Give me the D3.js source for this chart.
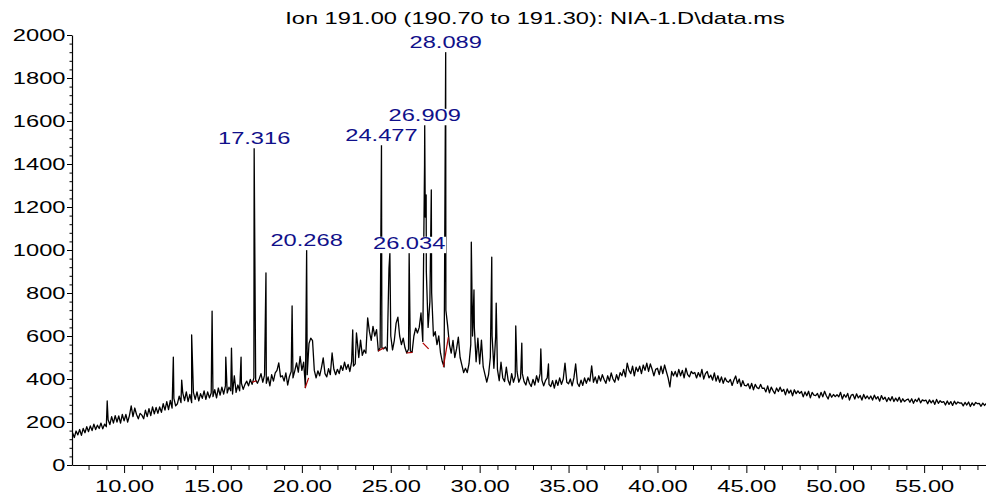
<!DOCTYPE html>
<html>
<head>
<meta charset="utf-8">
<script src="https://cdn.jsdelivr.net/npm/d3@7"></script>
<style>
  body { margin: 0; background: #fff; }
  svg text { font-family: "Liberation Sans", Arial, sans-serif; }
</style>
</head>
<body>
<svg id="canvas"></svg>
<script>
// abundance, one row per minute (x.0 ... x.9), first row = 7 min
let scanStart = 7
let scanStep = 0.1
let minuteRows = [
  [135,150,128,158,140,165,138,170,150,178],
  [155,182,160,190,165,185,170,195,168,190],
  [178,210,188,225,195,230,200,228,195,235],
  [205,235,200,230,275,225,265,235,215,240],
  [232,215,255,225,262,230,270,238,268,240],
  [270,245,285,255,295,258,300,265,310,275],
  [285,320,290,335,300,340,295,328,290,338],
  [305,340,298,332,310,345,305,340,312,335],
  [318,350,312,358,325,362,330,368,335,362],
  [345,330,415,338,372,345,380,352,375,390],
  [368,398,375,405,395,380,400,425,385,418],
  [380,410,368,420,390,428,440,475,410,415],
  [390,428,372,412,435,405,438,475,432,505],
  [440,478,360,420,565,590,578,440,405,438],
  [415,452,498,425,410,448,420,521,445,420],
  [445,425,462,440,478,445,468,435,482,460],
  [470,590,500,581,510,535,520,684,620,580],
  [645,600,630,530,545,545,540,549,530,916],
  [600,535,580,660,688,600,560,590,545,521],
  [540,530,525,600,637,614,640,707,575,1400],
  [900,640,760,800,600,620,560,600,520,480],
  [456,720,647,560,520,580,500,540,595,500],
  [465,430,450,430,470,560,600,640,480,590],
  [470,581,456,420,386,420,500,600,450,600],
  [445,392,478,405,388,455,395,372,425,385],
  [412,435,385,405,425,388,372,410,380,365],
  [398,372,415,385,425,395,368,392,405,375],
  [365,392,358,395,370,405,375,400,474,385],
  [378,400,368,405,470,380,365,395,370,405],
  [380,405,390,461,385,410,380,415,390,420],
  [398,380,415,390,428,400,385,420,395,430],
  [415,445,410,474,440,425,460,415,455,435],
  [460,425,465,440,474,435,470,445,415,445],
  [450,420,460,425,465,435,405,363,435,415],
  [435,410,445,415,440,405,450,420,410,435],
  [425,430,405,430,410,445,400,425,435,405],
  [418,395,428,390,415,385,410,380,405,390],
  [385,398,370,395,414,380,400,365,392,370],
  [368,378,355,380,350,375,360,355,375,356],
  [358,340,368,336,362,346,332,358,342,362],
  [342,352,326,354,334,348,322,350,332,345],
  [333,342,317,340,322,343,312,338,325,323],
  [333,312,338,317,343,322,307,333,315,328],
  [318,327,317,338,307,328,315,333,302,325],
  [328,307,331,312,323,302,328,309,321,307],
  [321,302,325,307,318,297,323,305,315,295],
  [313,299,318,295,311,297,315,292,308,295],
  [303,307,292,308,287,305,295,311,289,303],
  [298,302,285,303,289,301,282,305,287,299],
  [291,295,279,298,282,295,277,297,283,293],
  [288,289,275,291,279,293,272,289,277,291],
  [285,287,273,288,277,287,275,285,272,283]
]

// narrow peak apexes that fall between scans
let peakTimes = [9.05, 12.77, 13.24, 13.80, 14.95, 15.72, 16.04, 16.58, 17.316, 17.98,
  19.45, 20.268, 22.86, 23.07, 24.477, 24.95, 26.034, 26.909, 26.94, 26.99,
  27.28, 28.089, 29.53, 29.68, 30.68, 30.93, 32.03, 32.37, 33.44, 33.87]
let peakHeights = [298, 502, 395, 605, 716, 502, 544, 502, 1474, 893,
  740, 1000, 628, 614, 1488, 986, 986, 1581, 1153, 1256,
  1279, 1921, 1037, 814, 967, 753, 647, 567, 540, 470]

let labelTimes = [17.316, 20.268, 24.477, 26.034, 26.909, 28.089]
let labelHeights = [1474, 1000, 1488, 986, 1581, 1921]

// integration baselines (red)
let baseFrom = [17.20, 20.18, 24.30, 25.88, 26.80, 27.96]
let baseFromVal = [385, 358, 530, 521, 568, 456]
let baseTo = [17.45, 20.38, 24.62, 26.22, 27.13, 28.24]
let baseToVal = [392, 405, 545, 524, 540, 595]

let yMajor = [0, 200, 400, 600, 800, 1000, 1200, 1400, 1600, 1800, 2000]
let xMajor = [10, 15, 20, 25, 30, 35, 40, 45, 50, 55]

let title = 'Ion 191.00 (190.70 to 191.30): NIA-1.D\\data.ms'

const width = 986
const height = 495
const plotLeft = 72
const plotTop = 35
const plotBottom = 465
const stretch = 1.48

let svg = d3.select('#canvas').attr('width', width).attr('height', height)

let xScale = d3.scaleLinear().domain([7.07, 58.48]).range([plotLeft, width])
let yScale = d3.scaleLinear().domain([0, 2000]).range([plotBottom, plotTop])

let points = []
minuteRows.forEach((row, r) => {
  row.forEach((v, c) => points.push({ t: scanStart + r + c * scanStep, v: v }))
})
peakTimes.forEach((t, i) => points.push({ t: t, v: peakHeights[i] }))
points.sort((a, b) => a.t - b.t)

svg.append('clipPath').attr('id', 'plot-clip')
  .append('rect')
  .attr('x', plotLeft).attr('y', 0)
  .attr('width', width - plotLeft).attr('height', plotBottom)

let line = d3.line().x(d => xScale(d.t)).y(d => yScale(d.v))

svg.append('path')
  .datum(points)
  .attr('clip-path', 'url(#plot-clip)')
  .attr('fill', 'none')
  .attr('stroke', '#000')
  .attr('stroke-width', 1.3)
  .attr('stroke-linejoin', 'round')
  .attr('d', line)

svg.append('g').selectAll('line')
  .data(baseFrom)
  .enter()
  .append('line')
  .attr('x1', (d, i) => xScale(d))
  .attr('y1', (d, i) => yScale(baseFromVal[i]))
  .attr('x2', (d, i) => xScale(baseTo[i]))
  .attr('y2', (d, i) => yScale(baseToVal[i]))
  .attr('stroke', '#b00000')
  .attr('stroke-width', 1.2)

// axes
let yAxis = d3.axisLeft(yScale).tickValues(yMajor).tickSize(5).tickSizeOuter(0)
  .tickFormat(d3.format('d'))
let yMinor = d3.axisLeft(yScale)
  .tickValues(d3.range(0, 2001, 40).filter(v => v % 200 !== 0))
  .tickSize(2.5).tickFormat('')

let xAxis = d3.axisBottom(xScale).tickValues(xMajor).tickSize(8).tickSizeOuter(0)
  .tickFormat(d3.format('.2f'))
let xMinor = d3.axisBottom(xScale)
  .tickValues(d3.range(8, 59, 1).filter(v => v % 5 !== 0))
  .tickSize(5).tickFormat('')

let gy = svg.append('g').attr('transform', 'translate(' + plotLeft + ',0)').call(yAxis)
svg.append('g').attr('transform', 'translate(' + plotLeft + ',0)').call(yMinor)
  .call(g => g.select('.domain').remove())
let gx = svg.append('g').attr('transform', 'translate(0,' + plotBottom + ')').call(xAxis)
svg.append('g').attr('transform', 'translate(0,' + plotBottom + ')').call(xMinor)
  .call(g => g.select('.domain').remove())

svg.selectAll('.domain').attr('stroke', '#000').attr('stroke-width', 1.2)
svg.selectAll('.tick line').attr('stroke', '#000')

gy.attr('font-size', null).attr('font-family', null)
gy.selectAll('.tick text')
  .attr('font-size', 16)
  .attr('fill', '#000')
  .attr('x', -6.5 / stretch)
  .attr('dy', '0.36em')
  .attr('transform', 'scale(' + stretch + ',1)')

gx.attr('font-size', null).attr('font-family', null)
gx.selectAll('.tick text')
  .attr('font-size', 16)
  .attr('fill', '#000')
  .attr('y', 27)
  .attr('dy', 0)
  .attr('transform', 'scale(' + stretch + ',1)')

svg.append('text')
  .attr('font-size', 16)
  .attr('text-anchor', 'middle')
  .attr('transform', 'translate(535,24) scale(' + stretch + ',1)')
  .text(title)

// peak retention time labels with white boxes
labelTimes.forEach((t, i) => {
  let g = svg.append('g')
    .attr('transform', 'translate(' + xScale(t) + ',' + (yScale(labelHeights[i]) - 4) + ') scale(' + stretch + ',1)')
  let box = g.append('rect').attr('fill', '#fff')
  let txt = g.append('text')
    .attr('font-size', 16)
    .attr('text-anchor', 'middle')
    .attr('fill', '#10108a')
    .text(t.toFixed(3))
  let bb = txt.node().getBBox()
  box.attr('x', bb.x - 0.5).attr('y', bb.y + 2).attr('width', bb.width + 1).attr('height', bb.height - 1)
})
</script>
</body>
</html>
